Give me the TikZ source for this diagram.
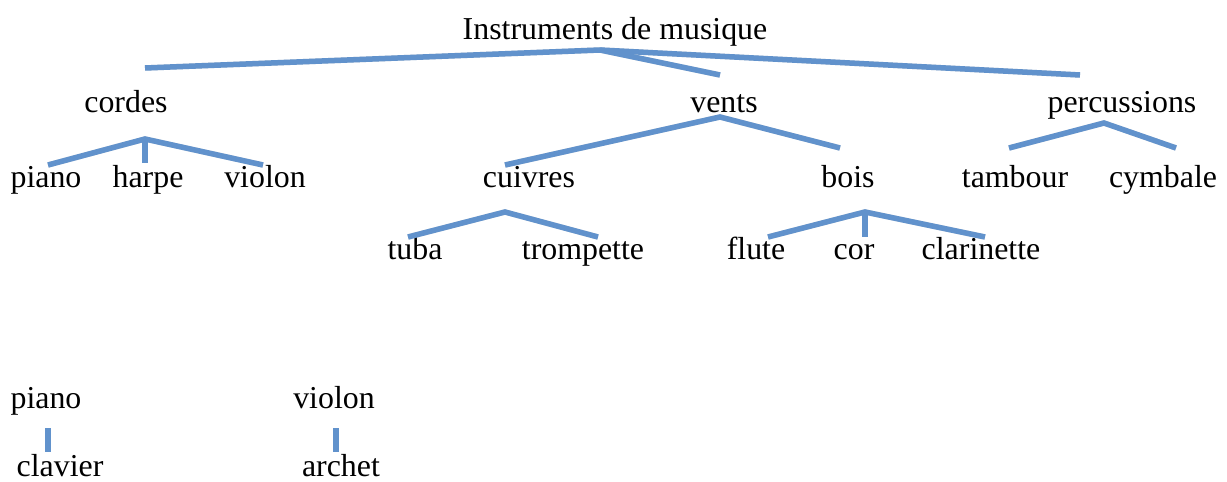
\documentclass[tikz,border=0pt]{standalone}
\usepackage{fontspec}
\setmainfont{Liberation Serif}
\newfontfamily\treefont{Liberation Serif}
\definecolor{branchblue}{RGB}{97,146,204}
\begin{document}
\begin{tikzpicture}[x=1bp,y=-1bp,
  lbl/.style={anchor=base,inner sep=0pt,font=\treefont\fontsize{32}{36}\selectfont},
  branch/.style={draw=branchblue,line width=5.5bp,line cap=butt,line join=miter},
  shadowline/.style={draw=black!35,opacity=0.35,line width=5.5bp}]
\useasboundingbox (0,0) rectangle (1227,482);
% labels
\node[lbl] (root) at (615,40) {Instruments de musique};
\node[lbl] (cordes) at (126,113) {cordes};
\node[lbl] (vents) at (724,113) {vents};
\node[lbl] (perc) at (1122,113) {percussions};
\node[lbl] (piano) at (46,188) {piano};
\node[lbl] (harpe) at (148,188) {harpe};
\node[lbl] (violon) at (265,188) {violon};
\node[lbl] (cuivres) at (529,188) {cuivres};
\node[lbl] (bois) at (848,188) {bois};
\node[lbl] (tambour) at (1015,188) {tambour};
\node[lbl] (cymbale) at (1163,188) {cymbale};
\node[lbl] (tuba) at (415,260) {tuba};
\node[lbl] (trompette) at (583,260) {trompette};
\node[lbl] (flute) at (756,260) {flute};
\node[lbl] (cor) at (854,260) {cor};
\node[lbl] (clarinette) at (981,260) {clarinette};
\node[lbl] (piano2) at (46,408) {piano};
\node[lbl] (violon2) at (334,408) {violon};
\node[lbl] (clavier) at (60,476) {clavier};
\node[lbl] (archet) at (341,476) {archet};
% branch points
\coordinate (rA) at (600,50);
\coordinate (rL) at (145,68);
\coordinate (rM) at (720,75);
\coordinate (rR) at (1080,75);
\coordinate (cA) at (145,139);
\coordinate (cL) at (48,165);
\coordinate (cM) at (145,163);
\coordinate (cR) at (263,165);
\coordinate (vA) at (720,117);
\coordinate (vL) at (505,165);
\coordinate (vR) at (840,148);
\coordinate (pA) at (1104,123);
\coordinate (pL) at (1009,148);
\coordinate (pR) at (1176,148);
\coordinate (kA) at (505,212);
\coordinate (kL) at (408,237);
\coordinate (kR) at (598,237);
\coordinate (bA) at (865,212);
\coordinate (bL) at (768,237);
\coordinate (bM) at (865,237);
\coordinate (bR) at (985,237);
\coordinate (p2T) at (48,428);
\coordinate (p2B) at (48,452);
\coordinate (v2T) at (336,428);
\coordinate (v2B) at (336,452);
% shadows
\begin{scope}[shift={(1.5,2.5)}]
\path[shadowline] (rL) -- (rA) -- (rR) (rA) -- (rM);
\path[shadowline] (cL) -- (cA) -- (cR) (cA) -- (cM);
\path[shadowline] (vL) -- (vA) -- (vR);
\path[shadowline] (pL) -- (pA) -- (pR);
\path[shadowline] (kL) -- (kA) -- (kR);
\path[shadowline] (bL) -- (bA) -- (bR) (bA) -- (bM);
\path[shadowline] (p2T) -- (p2B) (v2T) -- (v2B);
\end{scope}
% connectors
\path[branch] (rL) -- (rA) -- (rR);
\path[branch] (rA) -- (rM);
\path[branch] (cL) -- (cA) -- (cR);
\path[branch] (cA) -- (cM);
\path[branch] (vL) -- (vA) -- (vR);
\path[branch] (pL) -- (pA) -- (pR);
\path[branch] (kL) -- (kA) -- (kR);
\path[branch] (bL) -- (bA) -- (bR);
\path[branch] (bA) -- (bM);
\path[branch] (p2T) -- (p2B);
\path[branch] (v2T) -- (v2B);
\end{tikzpicture}
\end{document}
